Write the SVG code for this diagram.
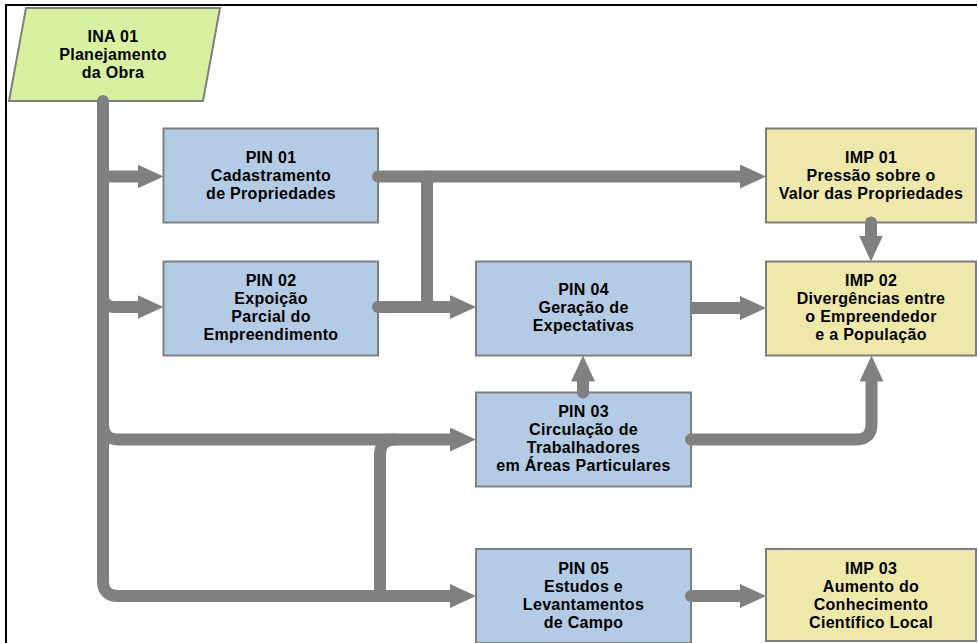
<svg xmlns="http://www.w3.org/2000/svg" width="978" height="643" viewBox="0 0 978 643">
<defs>
<marker id="ah" markerUnits="userSpaceOnUse" markerWidth="26" markerHeight="24" refX="0" refY="12" orient="auto" viewBox="0 0 26 24">
<path d="M0,0 L26,12 L0,24 z" fill="#808080"/>
</marker>
</defs>
<style>
.pin{fill:#B3CBE5;stroke:#7F7F7F;stroke-width:2}
.imp{fill:#EEE8AA;stroke:#7F7F7F;stroke-width:2}
.ina{fill:#D7F1A0;stroke:#7F7F7F;stroke-width:2}
text{font-family:"Liberation Sans",Arial,sans-serif;font-weight:bold;font-size:16px;letter-spacing:0.3px;fill:#000;text-anchor:middle}
.c{fill:none;stroke:#808080;stroke-width:12;stroke-linecap:round;stroke-linejoin:round}
.cb{fill:none;stroke:#808080;stroke-width:12;stroke-linecap:butt}
</style>
<rect width="978" height="643" fill="#fff"/>
<path d="M977,5 H6 V643" fill="none" stroke="#000" stroke-width="2"/>

<g id="INA01">
<polygon class="ina" points="26,8 220,8 203,101 9,101"/>
<text x="113" y="42">INA 01</text>
<text x="113" y="60">Planejamento</text>
<text x="113" y="78">da Obra</text>
</g>

<g id="PIN01">
<rect class="pin" x="163.5" y="128.5" width="214.5" height="94"/>
<text x="271" y="163">PIN 01</text>
<text x="271" y="181">Cadastramento</text>
<text x="271" y="199">de Propriedades</text>
</g>

<g id="PIN02">
<rect class="pin" x="163.5" y="261.5" width="214.5" height="94"/>
<text x="271" y="286">PIN 02</text>
<text x="271" y="304">Expoição</text>
<text x="271" y="322">Parcial do</text>
<text x="271" y="340">Empreendimento</text>
</g>

<g id="PIN04">
<rect class="pin" x="476" y="261.5" width="215" height="94"/>
<text x="583.5" y="295">PIN 04</text>
<text x="583.5" y="313">Geração de</text>
<text x="583.5" y="331">Expectativas</text>
</g>

<g id="PIN03">
<rect class="pin" x="476" y="392.5" width="215" height="94"/>
<text x="583.5" y="417">PIN 03</text>
<text x="583.5" y="435">Circulação de</text>
<text x="583.5" y="453">Trabalhadores</text>
<text x="583.5" y="471">em Áreas Particulares</text>
</g>

<g id="PIN05">
<rect class="pin" x="476" y="549" width="215" height="94"/>
<text x="583.5" y="574">PIN 05</text>
<text x="583.5" y="592">Estudos e</text>
<text x="583.5" y="610">Levantamentos</text>
<text x="583.5" y="628">de Campo</text>
</g>

<g id="IMP01">
<rect class="imp" x="766" y="128.5" width="210" height="94"/>
<text x="871" y="163">IMP 01</text>
<text x="871" y="181">Pressão sobre o</text>
<text x="871" y="199">Valor das Propriedades</text>
</g>

<g id="IMP02">
<rect class="imp" x="766" y="261.5" width="210" height="94"/>
<text x="871" y="286">IMP 02</text>
<text x="871" y="304">Divergências entre</text>
<text x="871" y="322">o Empreendedor</text>
<text x="871" y="340">e a População</text>
</g>

<g id="IMP03">
<rect class="imp" x="766" y="549" width="210" height="92"/>
<text x="871" y="574">IMP 03</text>
<text x="871" y="592">Aumento do</text>
<text x="871" y="610">Conhecimento</text>
<text x="871" y="628">Científico Local</text>
</g>

<g id="connectors">
<path class="c" d="M103,101 V581 Q103,596 118,596 H450" marker-end="url(#ah)"/>
<path class="c" d="M103,176.5 H137.5" marker-end="url(#ah)"/>
<path class="c" d="M103,295 Q103,307 115,307 H137.5" marker-end="url(#ah)"/>
<path class="c" d="M103,424 Q103,439.5 118.5,439.5 H450" marker-end="url(#ah)"/>
<path class="c" d="M380,596 V455 Q380,439.5 395.5,439.5"/>
<path class="c" d="M378,176.5 H740" marker-end="url(#ah)"/>
<path class="c" d="M427,176.5 V307"/>
<path class="c" d="M378,307 H450" marker-end="url(#ah)"/>
<path class="cb" d="M692,308 H740" marker-end="url(#ah)"/>
<path class="c" d="M691,439.5 H856 Q871.5,439.5 871.5,424 V381.5" marker-end="url(#ah)"/>
<path class="c" d="M583,392.5 V381.5" marker-end="url(#ah)"/>
<path class="c" d="M871,222.5 V235.5" marker-end="url(#ah)"/>
<path class="c" d="M691,596 H740" marker-end="url(#ah)"/>
</g>
</svg>
